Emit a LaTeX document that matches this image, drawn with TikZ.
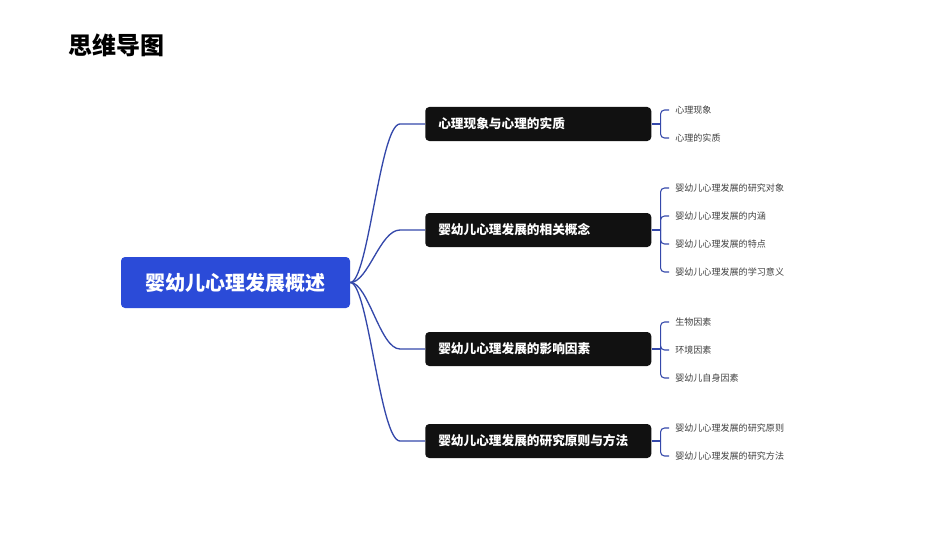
\documentclass[tikz,border=0pt]{standalone}
\usepackage{fontspec}
\setmainfont{Noto Sans CJK SC}
\usetikzlibrary{positioning,calc}
\definecolor{rootblue}{RGB}{43,75,216}
\definecolor{linkblue}{RGB}{52,72,170}
\definecolor{topicblack}{RGB}{17,17,17}
\tikzset{
  rootbox/.style={fill=rootblue, rounded corners=3pt, text=white, font=\fontsize{15}{18}\selectfont\bfseries,
    minimum width=171.75pt, minimum height=38.25pt, inner sep=0pt},
  topicbox/.style={fill=topicblack, rounded corners=3pt, text=white, font=\fontsize{9.5}{11}\selectfont\bfseries,
    minimum width=169.5pt, minimum height=25.5pt, anchor=west, inner sep=0pt, text width=150pt, align=left},
  leaf/.style={anchor=west, inner sep=0pt, font=\fontsize{6.8}{8}\selectfont, text=black!75},
  link/.style={linkblue, line width=1pt},
  brace/.style={linkblue, line width=0.8pt, rounded corners=3pt},
}
\begin{document}
\begin{tikzpicture}[x=0.75pt,y=0.75pt,yscale=-1,xscale=1]
  \useasboundingbox (0,0) rectangle (950,535);
  % title
  \node (title) [anchor=west, inner sep=0pt, font=\fontsize{18}{20}\selectfont\bfseries] at (68,45) {思维导图};
  % root
  \node (root) [rootbox] at (235.5,282.5) {婴幼儿心理发展概述};
  % topics
  \node (t1) [topicbox] at (425,124) {心理现象与心理的实质};
  \node (t2) [topicbox] at (425,230) {婴幼儿心理发展的相关概念};
  \node (t3) [topicbox] at (425,349) {婴幼儿心理发展的影响因素};
  \node (t4) [topicbox] at (425,441) {婴幼儿心理发展的研究原则与方法};
  % root to topics
  \foreach \t in {t1,t2,t3,t4}
    \draw [link] (root.east) .. controls +(18,0) and ($(\t.west)+(-45,0)$) .. ($(\t.west)+(-25,0)$) -- (\t.west);
  % leaves
  \node (l11) [leaf] at (675,110) {心理现象};
  \node (l12) [leaf] at (675,138) {心理的实质};
  \node (l21) [leaf] at (675,188) {婴幼儿心理发展的研究对象};
  \node (l22) [leaf] at (675,216) {婴幼儿心理发展的内涵};
  \node (l23) [leaf] at (675,244) {婴幼儿心理发展的特点};
  \node (l24) [leaf] at (675,272) {婴幼儿心理发展的学习意义};
  \node (l31) [leaf] at (675,322) {生物因素};
  \node (l32) [leaf] at (675,350) {环境因素};
  \node (l33) [leaf] at (675,378) {婴幼儿自身因素};
  \node (l41) [leaf] at (675,428) {婴幼儿心理发展的研究原则};
  \node (l42) [leaf] at (675,456) {婴幼儿心理发展的研究方法};
  % braces
  \foreach \t/\leaves in {t1/{l11,l12},t2/{l21,l22,l23,l24},t3/{l31,l32,l33},t4/{l41,l42}} {
    \draw [brace] (\t.east) -- ++(9,0);
    \foreach \l in \leaves
      \draw [brace] ($(\t.east)+(9,0)$) |- ($(\l.west)+(-6,0)$);
  }
\end{tikzpicture}
\end{document}
